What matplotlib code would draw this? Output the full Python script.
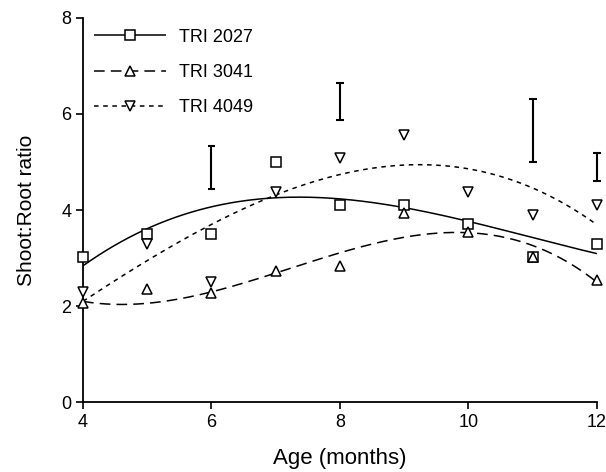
import numpy as np
import matplotlib
matplotlib.use("Agg")
import matplotlib.pyplot as plt

plt.rcParams['font.family'] = ['Liberation Sans', 'DejaVu Sans']

age = [4, 5, 6, 7, 8, 9, 10, 11, 12]
tri2027 = [3.02, 3.5, 3.5, 5.0, 4.1, 4.1, 3.7, 3.02, 3.3]
tri3041 = [2.06, 2.35, 2.27, 2.73, 2.83, 3.94, 3.54, 3.02, 2.54]
tri4049 = [2.29, 3.29, 2.5, 4.38, 5.08, 5.56, 4.38, 3.9, 4.1]

# fitted curve values read at each month
fit2027 = [2.85, 3.6, 4.05, 4.27, 4.25, 4.05, 3.75, 3.42, 3.1]
fit3041 = [2.1, 2.05, 2.3, 2.7, 3.1, 3.42, 3.55, 3.25, 2.5]
fit4049 = [2.1, 2.95, 3.7, 4.3, 4.75, 4.95, 4.85, 4.45, 3.7]

# bars for LSD
bar_age = [6, 8, 11, 12]
bar_lo = [4.44, 5.88, 5.0, 4.6]
bar_hi = [5.33, 6.65, 6.31, 5.19]

fig = plt.figure(figsize=(6.06, 4.72), dpi=100)
ax = fig.add_axes([0.137, 0.148, 0.848, 0.814])

xs = np.linspace(4, 12, 200)
series = [
    (tri2027, fit2027, 's', (0, ()), 'TRI 2027'),
    (tri3041, fit3041, '^', (0, (7, 4)), 'TRI 3041'),
    (tri4049, fit4049, 'v', (0, (3, 3)), 'TRI 4049'),
]
for pts, fit, mk, ls, name in series:
    c = np.polyfit(age, fit, 3) if name != 'TRI 3041' else np.polyfit(age, fit, 4)
    ax.plot(xs, np.polyval(c, xs), color='black', lw=1.1, linestyle=ls)
    ax.plot(age, pts, linestyle='none', marker=mk, ms=6.5, mfc='white',
            mec='black', mew=1.1, clip_on=False, zorder=3)
    ax.plot([], [], color='black', lw=1.1, linestyle=ls, marker=mk, ms=6.5,
            mfc='white', mec='black', mew=1.1, label=name)

for a, lo, hi in zip(bar_age, bar_lo, bar_hi):
    ax.vlines(a, lo, hi, color='black', lw=1.5, clip_on=False)
    ax.hlines([lo, hi], a - 0.06, a + 0.06, color='black', lw=1.5, clip_on=False)

ax.set_xlim(4, 12)
ax.set_ylim(0, 8)
ax.set_xticks([4, 6, 8, 10, 12])
ax.set_yticks([0, 2, 4, 6, 8])
ax.spines['top'].set_visible(False)
ax.spines['right'].set_visible(False)
ax.spines['left'].set_linewidth(1.3)
ax.spines['bottom'].set_linewidth(1.3)
ax.tick_params(direction='out', length=5, width=1.2, labelsize=13)
ax.set_xlabel('Age (months)', fontsize=16, labelpad=12)
ax.set_ylabel('Shoot:Root ratio', fontsize=15, labelpad=18)
ax.legend(loc='upper left', frameon=False, fontsize=13, handlelength=4,
          labelspacing=1.0, borderaxespad=0.2, handletextpad=0.7)

fig.savefig('out.png', dpi=100)
